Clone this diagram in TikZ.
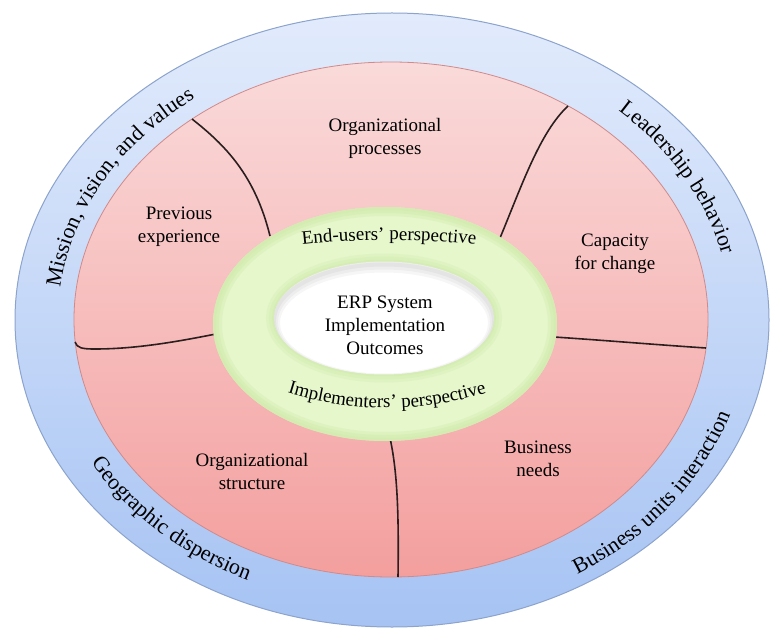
\documentclass[tikz,border=0pt]{standalone}
\usepackage{fontspec}
\setmainfont{Liberation Serif}
\usetikzlibrary{decorations.text}

\definecolor{blueTop}{HTML}{E2EBFC}
\definecolor{blueBot}{HTML}{A6C3F3}
\definecolor{blueEdge}{HTML}{8CA3CC}
\definecolor{redTop}{HTML}{FADADA}
\definecolor{redBot}{HTML}{F39F9E}
\definecolor{redEdge}{HTML}{D08A8A}
\definecolor{greenFill}{HTML}{E5F7CB}
\definecolor{greenEdge}{HTML}{CDE8A6}
\definecolor{divColor}{HTML}{2B1E1E}

\newcommand\ringfont{\fontsize{22}{26}\selectfont}
\newcommand\perspfont{\fontsize{19}{23}\selectfont}

\begin{document}
\begin{tikzpicture}[x=1pt,y=1pt,
  factor/.style={align=center, font=\fontsize{19}{23}\selectfont, text=black, inner sep=0pt},
  divider/.style={line width=1.6pt, draw=divColor},
  ringtext/.style={decorate, decoration={text along path, text align=center, text={|\ringfont|#1}}},
  persptext/.style={decorate, decoration={text along path, text align=center, text={|\perspfont|#1}}},
  greenring/.style={insert path={(385,306) ellipse [x radius=172, y radius=117]}},
  centre/.style={insert path={(384,312) ellipse [x radius=110, y radius=56.5]}},
]
\useasboundingbox (0,0) rectangle (770,630);

% outer ring: organisational context
\draw[top color=blueTop, bottom color=blueBot, draw=blueEdge, line width=1pt]
  (392,310) ellipse [x radius=377, y radius=307];

% middle ring: organisational factors
\draw[top color=redTop, bottom color=redBot, draw=redEdge, line width=0.8pt]
  (391,310.5) ellipse [x radius=317, y radius=257.5];

% dividers between the factors
\coordinate (d1a) at (192,511);  \coordinate (d1b) at (270,394);
\coordinate (d2a) at (568,524);  \coordinate (d2b) at (500,392);
\coordinate (d3a) at (75,288);   \coordinate (d3m) at (95,281);  \coordinate (d3b) at (216,296);
\coordinate (d4a) at (554,293);  \coordinate (d4b) at (706,282);
\coordinate (d5a) at (390,192);  \coordinate (d5b) at (398,53);

\draw[divider] (d1a) .. controls (225,485) and (255,455) .. (d1b);
\draw[divider] (d2a) .. controls (540,498) and (522,445) .. (d2b);
\draw[divider] (d3a) .. controls (77,282) and (82,281) .. (d3m)
               .. controls (140,281) and (185,290) .. (d3b);
\draw[divider] (d4a) .. controls (600,290) and (660,285) .. (d4b);
\draw[divider] (d5a) .. controls (397,160) and (399,120) .. (d5b);

% inner ring: perspectives, with soft bevelled edges
\fill[greenFill, greenring];
\begin{scope}
  \clip[greenring];
  \foreach \w in {18,12,6}
    \draw[greenEdge, opacity=.3, line width=\w pt, greenring];
  \foreach \w in {16,10,4}
    \draw[greenEdge, opacity=.25, line width=\w pt, centre];
\end{scope}

% centre: outcomes, with a faint inner shadow along the top
\fill[white, centre];
\begin{scope}
  \clip[centre];
  \foreach \s/\w in {5/12,4/8,3/4}
    \draw[black, opacity=.035, line width=\w pt]
      (384,312-\s) ellipse [x radius=110, y radius=56.5];
\end{scope}

% factor labels
\node[factor] (orgproc)   at (385,491.5) {Organizational\\processes};
\node[factor] (prevexp)   at (179,403)   {Previous\\experience};
\node[factor] (capacity)  at (615,376.5) {Capacity\\for change};
\node[factor] (busneeds)  at (538,171)   {Business\\needs};
\node[factor] (orgstruct) at (252,159)   {Organizational\\structure};
\node[factor] (erp)       at (385,305)   {ERP System\\Implementation\\Outcomes};

% perspective labels along the green ring
\path[persptext={End-users’ perspective}]
  (389,-410) ++(100:800) arc[start angle=100, end angle=80, radius=800];
\path[persptext={Implementers’ perspective}]
  (387,555) ++(245:333) arc[start angle=245, end angle=295, radius=333];

% context labels along the blue ring
\path[ringtext={Mission, vision, and values}]
  (391,310.5) ++(185:333 and 273.5)
  arc[start angle=185, end angle=116, x radius=333, y radius=273.5];
\path[ringtext={Leadership behavior}]
  (391,310.5) ++(64.5:340 and 280.5)
  arc[start angle=64.5, end angle=-5.5, x radius=340, y radius=280.5];
\path[ringtext={Geographic dispersion}]
  (391,310.5) ++(191.5:346 and 286.5)
  arc[start angle=191.5, end angle=261.5, x radius=346, y radius=286.5];
\path[ringtext={Business units interaction}]
  (391,310.5) ++(-72.5:358 and 298.5)
  arc[start angle=-72.5, end angle=-2.5, x radius=358, y radius=298.5];
\end{tikzpicture}
\end{document}
